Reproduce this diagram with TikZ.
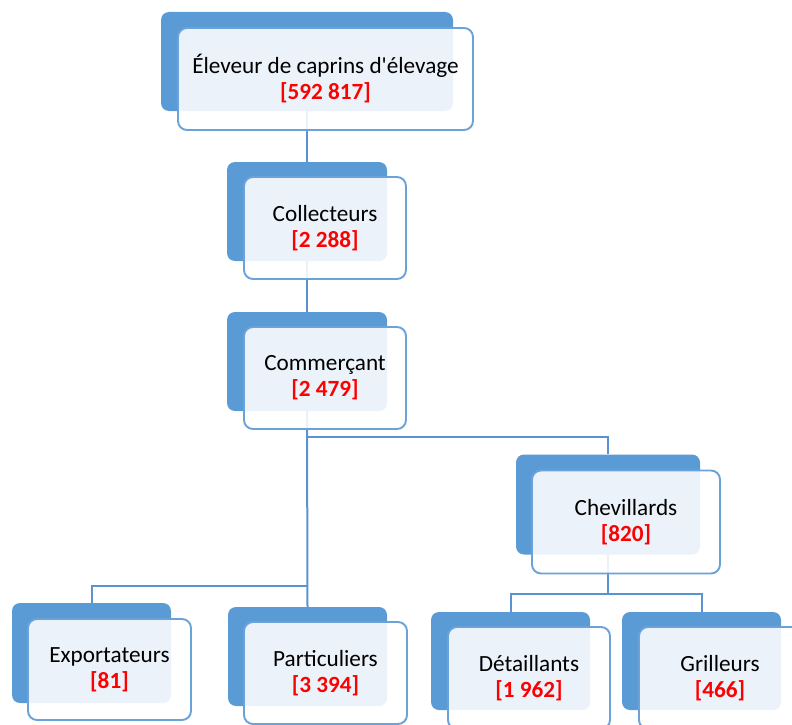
\documentclass[tikz,border=0pt]{standalone}
\usepackage{fontspec}
\setmainfont{Carlito}
\usetikzlibrary{backgrounds}
\definecolor{accent}{HTML}{5B9BD5}
\definecolor{frontline}{HTML}{6CA2DA}
\definecolor{linkblue}{HTML}{5A93CF}
\definecolor{numred}{HTML}{FF0000}
\newcommand\redcount[1]{{\bfseries\color{numred}#1}}
\tikzset{
  backbox/.style={rectangle, fill=accent, draw=none, rounded corners=8pt, inner sep=0pt},
  frontbox/.style={rectangle, fill=white, fill opacity=0.88, text opacity=1, draw=frontline,
    line width=1.9pt, rounded corners=9pt, inner sep=0pt, align=center,
    font=\fontsize{23.2}{26}\selectfont, text=black},
  link/.style={draw=linkblue, line width=2pt}
}
\begin{document}
\begin{tikzpicture}[x=1pt,y=-1pt]
\useasboundingbox (0,0) rectangle (792,725);
\clip (0,0) rectangle (792,725);
\node[backbox, minimum width=292pt, minimum height=99pt] (b1) at (307,61.5) {};
\node[frontbox, minimum width=295pt, minimum height=102pt] (f1) at (325.5,79) {Éleveur de caprins d\textquotesingle élevage\\\redcount{[592 817]}};
\node[backbox, minimum width=160pt, minimum height=99pt] (b2) at (307,211.5) {};
\node[frontbox, minimum width=162pt, minimum height=102pt] (f2) at (325,228) {Collecteurs\\\redcount{[2 288]}};
\node[backbox, minimum width=160pt, minimum height=99pt] (b3) at (307,361.5) {};
\node[frontbox, minimum width=162pt, minimum height=102pt] (f3) at (325,378) {Commerçant\\\redcount{[2 479]}};
\node[backbox, minimum width=184pt, minimum height=100pt] (b4) at (608,504.5) {};
\node[frontbox, minimum width=188pt, minimum height=103pt] (f4) at (626,522) {Chevillards\\\redcount{[820]}};
\node[backbox, minimum width=159pt, minimum height=100pt] (b5) at (91.5,653) {};
\node[frontbox, minimum width=163pt, minimum height=101pt] (f5) at (109.5,669.5) {Exportateurs\\\redcount{[81]}};
\node[backbox, minimum width=159pt, minimum height=99pt] (b6) at (307.5,656.5) {};
\node[frontbox, minimum width=163pt, minimum height=102pt] (f6) at (325.5,673) {Particuliers\\\redcount{[3 394]}};
\node[backbox, minimum width=159pt, minimum height=98pt] (b7) at (510.5,661) {};
\node[frontbox, minimum width=162pt, minimum height=102pt] (f7) at (529,678) {Détaillants\\\redcount{[1 962]}};
\node[backbox, minimum width=159pt, minimum height=98pt] (b8) at (701.5,661) {};
\node[frontbox, minimum width=162pt, minimum height=102pt] (f8) at (720,678) {Grilleurs\\\redcount{[466]}};
\coordinate (j1) at (307,437);
\coordinate (j2) at (307,586);
\coordinate (j3) at (608,594);
\begin{scope}[on background layer]
\draw[link] (b1.south) -- (b2.north);
\draw[link] (b2.south) -- (b3.north);
\draw[link] (b3.south) -- (b6.north);
\draw[link] (j1) -| (b4.north);
\draw[link] (j2) -| (b5.north);
\draw[link] (b4.south) -- (j3);
\draw[link] (b7.north) |- (j3) -| (b8.north);
\end{scope}
\end{tikzpicture}
\end{document}
